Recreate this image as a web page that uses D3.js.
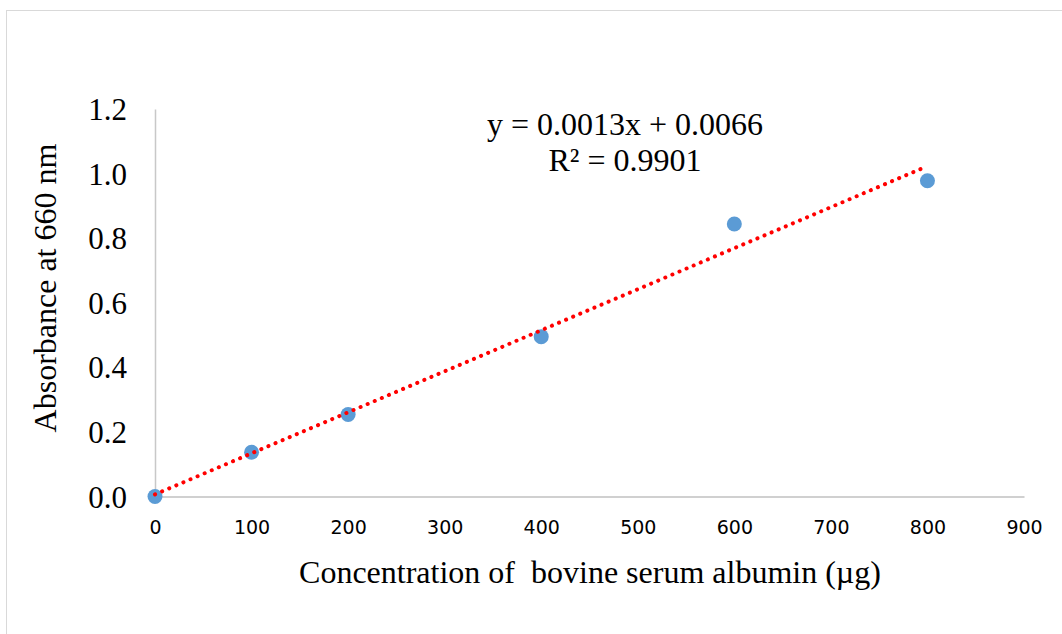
<!DOCTYPE html>
<html>
<head>
<meta charset="utf-8">
<script src="https://cdn.jsdelivr.net/npm/d3@7"></script>
<style>
  html, body { margin: 0; padding: 0; background: #fff; }
  svg { display: block; }
</style>
</head>
<body>
<svg id="chart" width="1062" height="634"></svg>
<script>
// BSA standard curve: concentration (µg) vs absorbance at 660 nm
const concentration = [0, 100, 200, 400, 600, 800];
const absorbance = [0.0, 0.137, 0.254, 0.495, 0.844, 0.978];
const xTicks = [0, 100, 200, 300, 400, 500, 600, 700, 800, 900];
const yTicks = [0.0, 0.2, 0.4, 0.6, 0.8, 1.0, 1.2];
const equationLines = ["y = 0.0013x + 0.0066", "R\u00B2 = 0.9901"];
const xTitle = "Concentration of\u00A0 bovine serum albumin (\u00B5g)";
const yTitle = "Absorbance at 660 nm";

const svg = d3.select("#chart");
const serif = "'Liberation Serif', 'Times New Roman', serif";
const sans = "'DejaVu Sans', Verdana, sans-serif";

// chart frame
svg.append("rect")
  .attr("x", 6.5).attr("y", 10.5)
  .attr("width", 1100).attr("height", 700)
  .attr("fill", "#fff").attr("stroke", "#d9d9d9").attr("stroke-width", 1);

const x = d3.scaleLinear().domain([0, 900]).range([155, 1024]);
const y = d3.scaleLinear().domain([0, 1.2]).range([496.5, 109]);

// x axis
const xAxis = svg.append("g")
  .attr("transform", `translate(0,${y(0)})`)
  .call(d3.axisBottom(x).tickValues(xTicks).tickSize(0).tickPadding(24).tickFormat(d3.format("d")));
xAxis.select(".domain").attr("stroke", "#d0d0d0").attr("stroke-width", 2);
xAxis.selectAll("text")
  .attr("font-family", sans).attr("font-size", 19).attr("fill", "#000");

// y axis
const yAxis = svg.append("g")
  .attr("transform", `translate(${x(0)},0)`)
  .call(d3.axisLeft(y).tickValues(yTicks).tickSize(0).tickPadding(28).tickFormat(d3.format(".1f")));
yAxis.select(".domain").attr("stroke", "#c8c8c8").attr("stroke-width", 1.5);
yAxis.selectAll("text")
  .attr("font-family", serif).attr("font-size", 31).attr("fill", "#000")
  .attr("dy", "0.34em");

// least-squares linear trendline
const n = concentration.length;
const mx = d3.mean(concentration), my = d3.mean(absorbance);
let sxy = 0, sxx = 0;
for (let i = 0; i < n; i++) {
  sxy += (concentration[i] - mx) * (absorbance[i] - my);
  sxx += (concentration[i] - mx) ** 2;
}
const slope = sxy / sxx;
const intercept = my - slope * mx;
const xMin = d3.min(concentration), xMax = d3.max(concentration);

// data points
svg.append("g").selectAll("circle")
  .data(concentration.map((c, i) => [c, absorbance[i]]))
  .join("circle")
  .attr("cx", d => x(d[0]))
  .attr("cy", d => y(d[1]))
  .attr("r", 7.5)
  .attr("fill", "#5b9bd5");

svg.append("line")
  .attr("x1", x(xMin)).attr("y1", y(intercept + slope * xMin))
  .attr("x2", x(xMax)).attr("y2", y(intercept + slope * xMax))
  .attr("stroke", "#ff0000")
  .attr("stroke-width", 4)
  .attr("stroke-linecap", "round")
  .attr("stroke-dasharray", "0.1 7.6");

// trendline equation
svg.append("text")
  .attr("font-family", serif).attr("font-size", 32).attr("fill", "#000")
  .attr("text-anchor", "middle")
  .selectAll("tspan")
  .data(equationLines)
  .join("tspan")
  .attr("x", 625)
  .attr("y", (d, i) => 135 + i * 36)
  .text(d => d);

// axis titles
svg.append("text")
  .attr("x", 590).attr("y", 583)
  .attr("text-anchor", "middle")
  .attr("font-family", serif).attr("font-size", 32).attr("fill", "#000")
  .text(xTitle);

svg.append("text")
  .attr("transform", `translate(56,${288}) rotate(-90)`)
  .attr("text-anchor", "middle")
  .attr("font-family", serif).attr("font-size", 32).attr("fill", "#000")
  .text(yTitle);
</script>
</body>
</html>
